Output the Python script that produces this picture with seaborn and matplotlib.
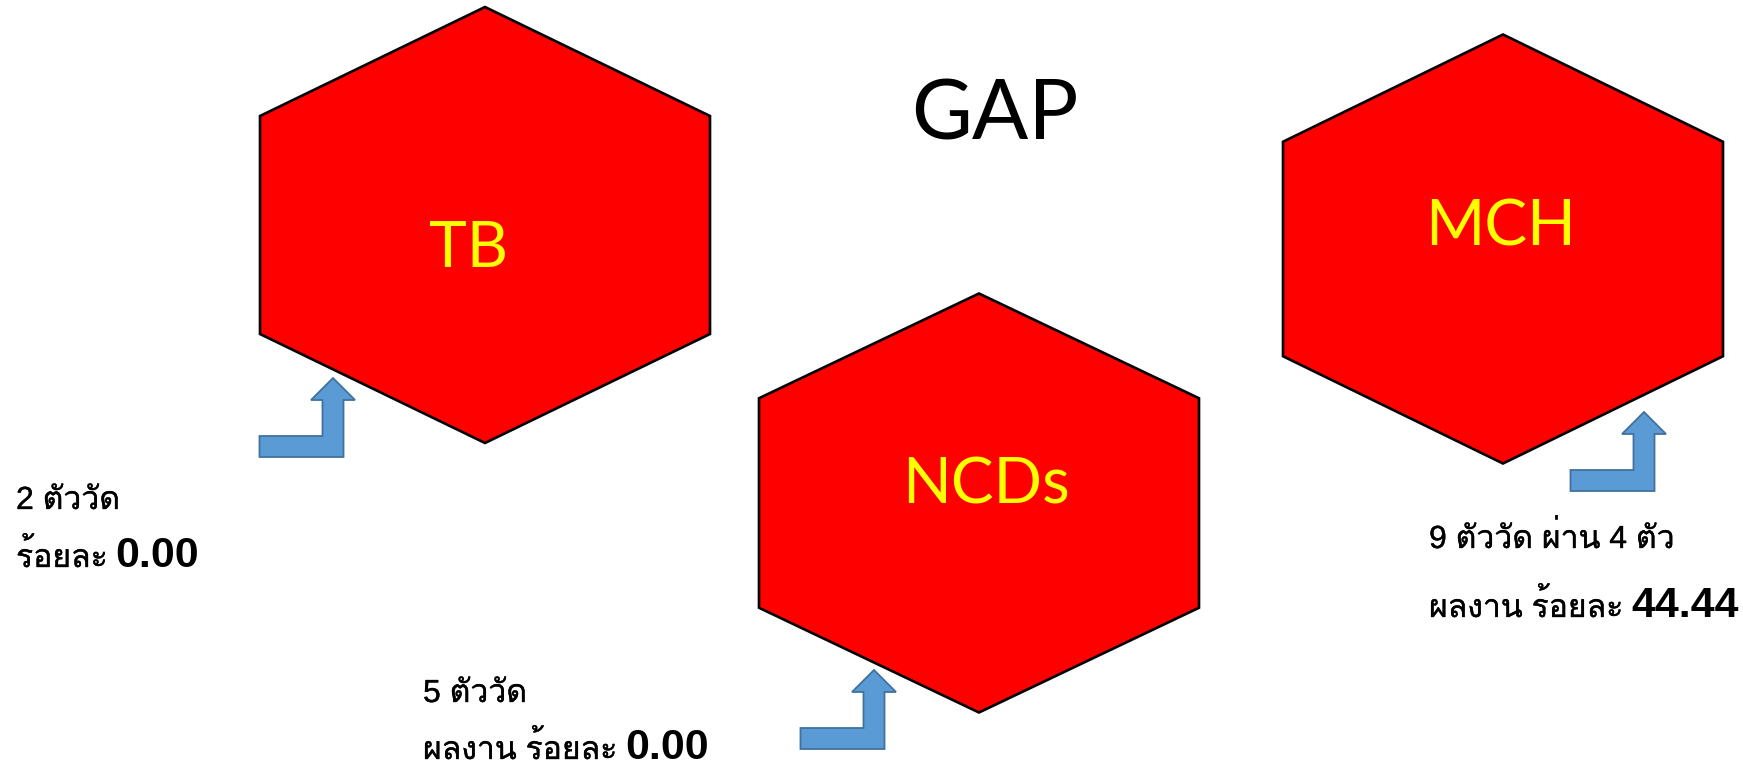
import matplotlib
matplotlib.use("Agg")
import matplotlib.pyplot as plt
import matplotlib.patheffects as pe
from matplotlib import font_manager, ft2font
from matplotlib.patches import Polygon
import seaborn as sns

# data
groups = ['TB', 'NCDs', 'MCH']
n_indicators = [2, 5, 9]
n_passed = [None, None, 4]
percent = [0.00, 0.00, 44.44]
title = 'GAP'

# layout (pixels, origin top-left)
hex_center = [(485, 225), (979, 503), (1503, 249)]
hex_size = [(450, 436), (440, 419), (440, 429)]
label_pos = [(469, 249), (986, 486), (1501, 228)]
arrow_tip = [(333, 378), (874, 670), (1644, 412)]
text_pos = [(16, 509, 567), (423, 702, 759), (1429, 548, 617)]

sns.set_style("white")
plt.rcParams['text.color'] = 'black'

# look for a font that has Thai glyphs
thai_reg = None
for f in font_manager.fontManager.ttflist:
    try:
        cmap = ft2font.FT2Font(f.fname).get_charmap()
    except Exception:
        continue
    if 0x0E15 in cmap and f.weight in (400, 'normal', 'regular') and thai_reg is None:
        thai_reg = f.name
fam = ['Liberation Sans']
if thai_reg:
    fam.append(thai_reg)
fam.append('DejaVu Sans')

W, H = 1743, 775
fig = plt.figure(figsize=(W / 100, H / 100), dpi=100)
ax = fig.add_axes([0, 0, 1, 1])
ax.set_xlim(0, W)
ax.set_ylim(H, 0)
ax.axis('off')


def hexagon(cx, cy, w, h):
    return [(cx, cy - h / 2), (cx + w / 2, cy - h / 4), (cx + w / 2, cy + h / 4),
            (cx, cy + h / 2), (cx - w / 2, cy + h / 4), (cx - w / 2, cy - h / 4)]


def bent_arrow(tx, ty, head_w=44, head_h=22, shaft=21, tall=79, arm=84):
    r = tx + shaft / 2
    l = tx - shaft / 2
    b = ty + tall
    return [(tx, ty), (tx + head_w / 2, ty + head_h), (r, ty + head_h), (r, b),
            (r - arm, b), (r - arm, b - shaft), (l, b - shaft), (l, ty + head_h),
            (tx - head_w / 2, ty + head_h)]


for i, g in enumerate(groups):
    cx, cy = hex_center[i]
    w, h = hex_size[i]
    ax.add_patch(Polygon(hexagon(cx, cy, w, h), closed=True, facecolor='#FF0000',
                         edgecolor='black', linewidth=1.9, joinstyle='miter'))
    lx, ly = label_pos[i]
    ax.text(lx, ly, g, color='#FFFF00', fontsize=46, family='Lato',
            ha='center', va='center')
    tx, ty = arrow_tip[i]
    ax.add_patch(Polygon(bent_arrow(tx, ty), closed=True, facecolor='#5B9BD5',
                         edgecolor='#41719C', linewidth=1.3))

ax.text(995, 116, title, fontsize=60, family='Lato', color='black',
        ha='center', va='center')

fig.canvas.draw()
renderer = fig.canvas.get_renderer()

# a touch heavier strokes for the regular Thai lines
heavy = [pe.withStroke(linewidth=0.25, foreground='black')]

for i, g in enumerate(groups):
    x, y1, y2 = text_pos[i]
    line1 = f'{n_indicators[i]} ตัววัด'
    if n_passed[i] is not None:
        line1 += f' ผ่าน {n_passed[i]} ตัว'
    ax.text(x, y1, line1, fontsize=23, family=fam, color='black',
            ha='left', va='baseline', path_effects=heavy)
    pre = 'ร้อยละ ' if i == 0 else 'ผลงาน ร้อยละ '
    t = ax.text(x, y2, pre, fontsize=23, family=fam, color='black',
                ha='left', va='baseline', path_effects=heavy)
    bb = t.get_window_extent(renderer)
    x_end = ax.transData.inverted().transform((bb.x1, bb.y0))[0]
    ax.text(x_end - 1, y2, f'{percent[i]:.2f}', fontsize=31, family=fam,
            fontweight='bold', color='black', ha='left', va='baseline')

fig.savefig('out.png', dpi=100, facecolor='white')
